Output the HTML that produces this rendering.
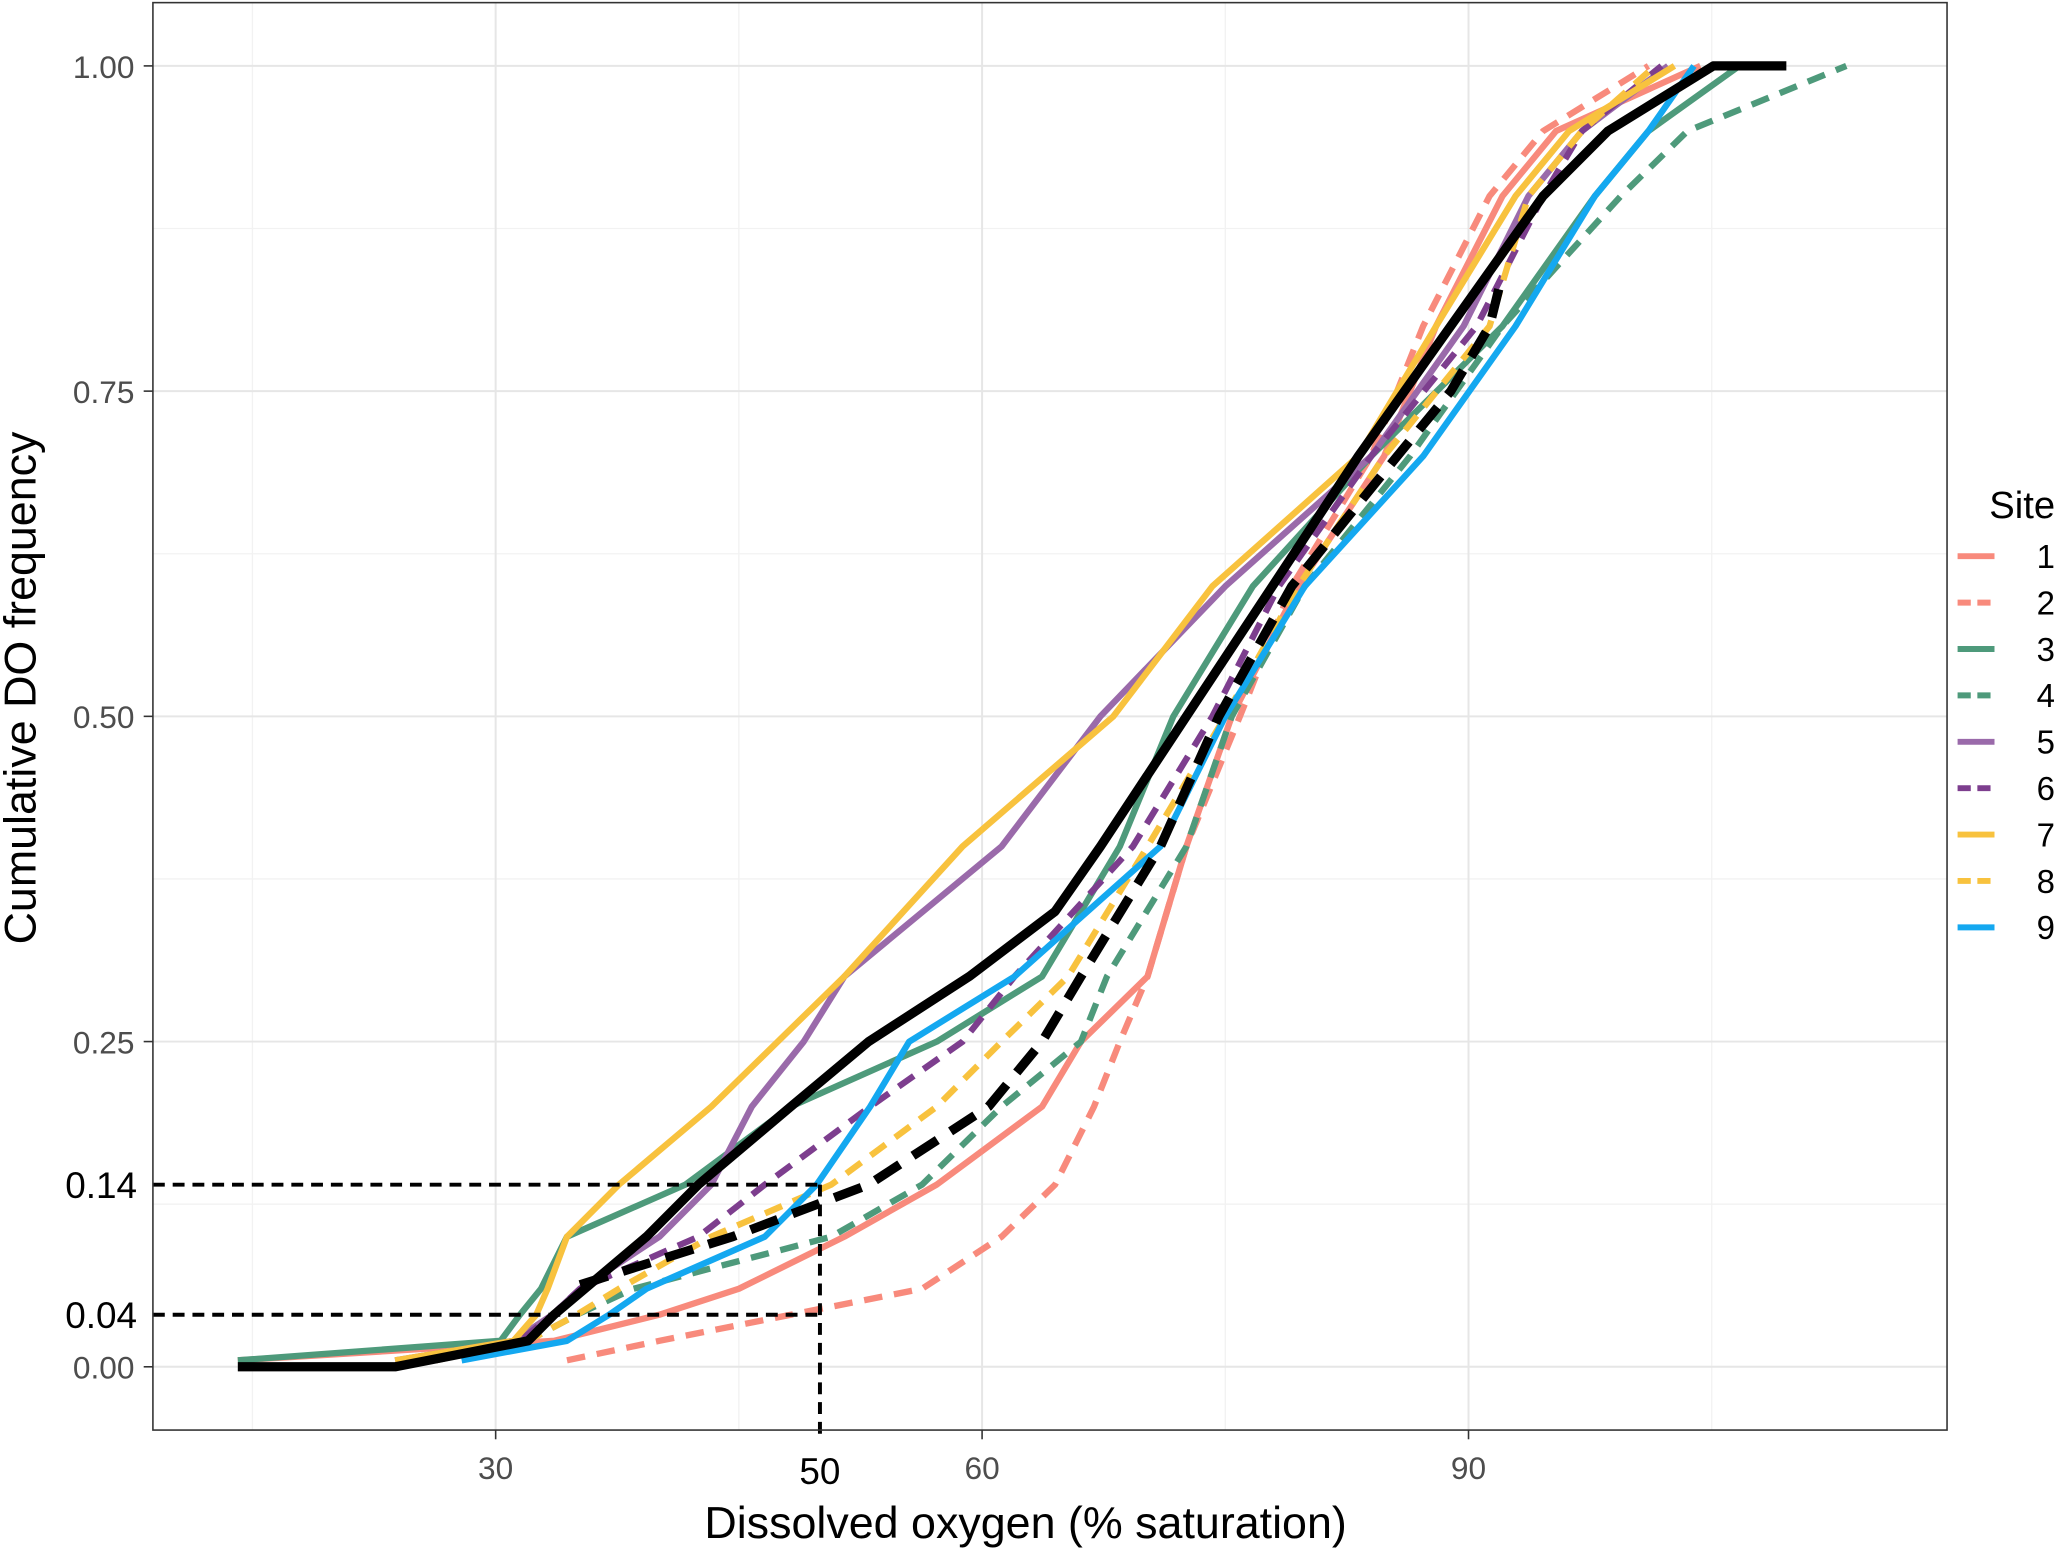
<!DOCTYPE html>
<html><head><meta charset="utf-8"><style>
html,body{margin:0;padding:0;background:#fff;}
svg{display:block;font-family:"Liberation Sans",Arial,sans-serif;}
</style></head><body>
<svg id="chart" width="2067" height="1550" viewBox="0 0 1568 1176" preserveAspectRatio="none" xmlns="http://www.w3.org/2000/svg">
<g id="grid"></g>
<g id="series"></g>
<g id="refs"></g>
<rect x="116" y="2" width="1361" height="1083" fill="none" stroke="#333" stroke-width="1.2"/>
<g id="axes"></g>
<text x="778" y="1167" font-size="34" text-anchor="middle" fill="#000">Dissolved oxygen (% saturation)</text>
<text transform="translate(27,522) rotate(-90)" font-size="34" text-anchor="middle" fill="#000">Cumulative DO frequency</text>
<g id="legend"></g>
</svg>
<script>
const probs = [0.005,0.02,0.04,0.06,0.1,0.14,0.2,0.25,0.3,0.4,0.5,0.6,0.7,0.8,0.9,0.95,1.0];
const site1 = [14.1,33.6,40.1,45.0,51.5,57.2,63.7,66.1,70.2,72.6,75.4,79.5,84.8,88.0,92.1,95.4,104.3];
const site2 = [34.4,40.1,48.2,56.3,61.2,64.5,66.9,68.5,70.2,72.6,75.9,79.1,84.0,87.2,91.3,94.6,101.1];
const site3 = [14.1,30.3,31.5,32.8,34.4,41.7,48.2,57.2,63.7,68.5,71.8,76.7,84.0,92.1,97.8,101.1,106.7];
const site4 = [26.3,32.0,35.0,38.5,50.7,56.3,61.2,66.1,67.7,72.6,75.4,79.9,86.4,92.1,99.4,103.5,113.3];
const site5 = [23.8,31.1,33.5,35.2,40.1,43.3,45.8,49.0,51.5,61.2,67.3,75.0,84.0,89.7,93.7,97.0,102.3];
const site6 = [26.3,31.5,33.5,35.2,42.5,46.6,53.1,58.8,62.0,69.3,74.2,78.3,84.0,90.5,94.6,97.0,101.9];
const site7 = [23.8,31.1,32.5,33.2,34.4,37.6,43.3,47.4,51.5,58.8,68.1,74.2,83.2,88.0,92.9,96.2,102.7];
const site8 = [26.3,32.0,35.0,37.6,43.3,50.7,57.2,61.2,65.3,70.2,75.0,79.5,84.8,91.3,93.7,97.0,101.5];
const site9 = [27.9,34.4,37.0,39.3,46.6,49.8,53.1,55.5,62.0,71.0,75.0,79.9,87.2,92.9,97.8,101.1,103.9];
const allProbs = [0.0,0.0,0.02,0.04,0.1,0.14,0.2,0.25,0.3,0.35,0.4,0.5,0.6,0.7,0.8,0.9,0.95,1.0,1.0];
const allSolid = [14.1,23.8,32.0,33.6,39.3,42.5,48.2,53.0,59.2,64.5,67.3,72.6,77.9,83.2,88.9,94.6,98.6,105.1,109.6];
const allDashProbs = [0.063,0.1,0.14,0.2,0.25,0.3,0.4,0.5,0.6,0.7,0.75,0.8,0.84];
const allDash = [35.2,44.6,53.0,60.4,63.7,66.1,71.0,74.6,79.1,85.6,88.9,91.3,92.1];
const xTicks = [30,60,90];
const xMinor = [15,45,75,105];
const yTicks = [0,0.25,0.5,0.75,1.0];
const yTickLabels = ["0.00","0.25","0.50","0.75","1.00"];
const yMinor = [0.125,0.375,0.625,0.875];
const refX = 50;
const refY = [0.14,0.04];
const siteNames = ["1","2","3","4","5","6","7","8","9"];

const NS="http://www.w3.org/2000/svg";
const X = v => 376 + (v-30)*12.3;
const Y = p => 1037 - p*987;
function mk(tag, attrs, parent){const e=document.createElementNS(NS,tag);for(const k in attrs)e.setAttribute(k,attrs[k]);parent.appendChild(e);return e;}
const grid=document.getElementById('grid'), ser=document.getElementById('series'), refs=document.getElementById('refs'), axes=document.getElementById('axes'), leg=document.getElementById('legend');

xMinor.forEach(v=>{const l=mk('line',{x1:X(v),x2:X(v),y1:2,y2:1085,stroke:'#f2f2f2','stroke-width':1},grid);

});
yMinor.forEach(v=>{const l=mk('line',{x1:116,x2:1477,y1:Y(v),y2:Y(v),stroke:'#f2f2f2','stroke-width':1},grid);

});
xTicks.forEach(v=>{const l=mk('line',{x1:X(v),x2:X(v),y1:2,y2:1085,stroke:'#e6e6e6','stroke-width':1.5},grid);


const t=mk('line',{x1:X(v),x2:X(v),y1:1085,y2:1092,stroke:'#333','stroke-width':1.2},axes);


const tx=mk('text',{x:X(v),y:1122,'font-size':24,'text-anchor':'middle',fill:'#4d4d4d'},axes);tx.textContent=v;

});
yTicks.forEach((v,i)=>{const l=mk('line',{x1:116,x2:1477,y1:Y(v),y2:Y(v),stroke:'#e6e6e6','stroke-width':1.5},grid);


const t=mk('line',{x1:109,x2:116,y1:Y(v),y2:Y(v),stroke:'#333','stroke-width':1.2},axes);


const tx=mk('text',{x:102,y:Y(v)+9,'font-size':24,'text-anchor':'end',fill:'#4d4d4d'},axes);tx.textContent=yTickLabels[i];

});

const defs=[
 {x:site1,p:probs,c:'#F88A7C',d:null,n:'site-1-line'},
 {x:site2,p:probs,c:'#F88A7C',d:'14 9',n:'site-2-line'},
 {x:site3,p:probs,c:'#4E9A7B',d:null,n:'site-3-line'},
 {x:site4,p:probs,c:'#4E9A7B',d:'14 9',n:'site-4-line'},
 {x:site5,p:probs,c:'#9A6AAA',d:null,n:'site-5-line'},
 {x:site6,p:probs,c:'#7D3E8E',d:'14 9',n:'site-6-line'},
 {x:site7,p:probs,c:'#F8C23E',d:null,n:'site-7-line'},
 {x:site8,p:probs,c:'#F8C23E',d:'14 9',n:'site-8-line'},
 {x:site9,p:probs,c:'#14A8F0',d:null,n:'site-9-line'},
];
defs.forEach(s=>{const pts=s.x.map((v,i)=>X(v).toFixed(1)+','+Y(s.p[i]).toFixed(1)).join(' ');
const a={points:pts,fill:'none',stroke:s.c,'stroke-width':4.8,'stroke-linejoin':'round'};if(s.d)a['stroke-dasharray']=s.d;
const l=mk('polyline',a,ser);

});
const b1=mk('polyline',{points:allSolid.map((v,i)=>X(v).toFixed(1)+','+Y(allProbs[i]).toFixed(1)).join(' '),fill:'none',stroke:'#000','stroke-width':7,'stroke-linejoin':'round'},ser);


const b2=mk('polyline',{points:allDash.map((v,i)=>X(v).toFixed(1)+','+Y(allDashProbs[i]).toFixed(1)).join(' '),fill:'none',stroke:'#000','stroke-width':7,'stroke-dasharray':'22 12'},ser);



refY.forEach(v=>{const l=mk('line',{x1:116,x2:X(refX),y1:Y(v),y2:Y(v),stroke:'#000','stroke-width':3,'stroke-dasharray':'9 6'},refs);


const t=mk('text',{x:104,y:Y(v)+10,'font-size':28,'text-anchor':'end',fill:'#000'},axes);t.textContent=v.toFixed(2);

});
const vl=mk('line',{x1:X(refX),x2:X(refX),y1:Y(refY[0]),y2:1092,stroke:'#000','stroke-width':3,'stroke-dasharray':'9 6'},refs);


const rx=mk('text',{x:X(refX),y:1126,'font-size':28,'text-anchor':'middle',fill:'#000'},axes);rx.textContent=refX;



const lt=mk('text',{x:1509,y:393,'font-size':29,fill:'#000'},leg);lt.textContent='Site';


defs.forEach((s,i)=>{const y=422+i*35.2;
const g=mk('g',{},leg);


const a={x1:1485,x2:1513,y1:y,y2:y,stroke:s.c,'stroke-width':4.5};if(s.d)a['stroke-dasharray']='10 5';
mk('line',a,g);
const t=mk('text',{x:1545,y:y+9,'font-size':25,fill:'#000'},g);t.textContent=siteNames[i];});
</script>
</body></html>
